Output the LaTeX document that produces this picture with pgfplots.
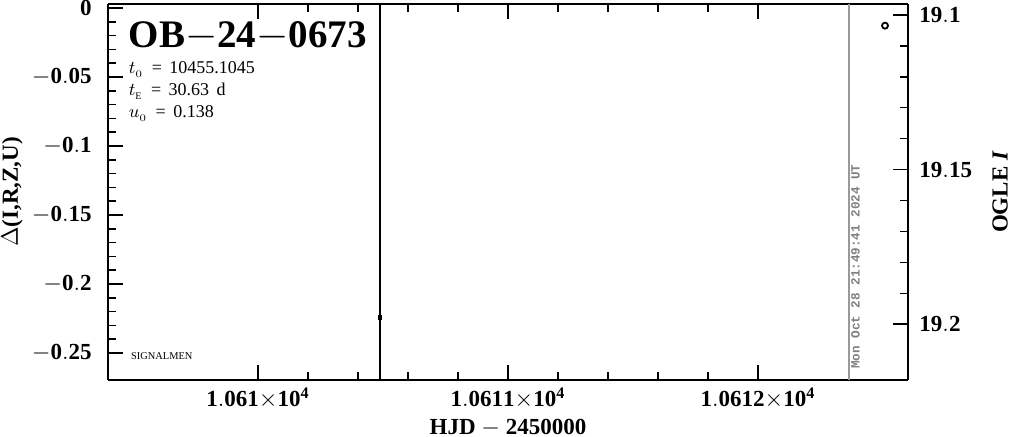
\documentclass[border=0pt]{standalone}
\usepackage{pgfplots}
\pgfplotsset{compat=1.18}
\usepackage{fontspec}
\setmainfont{Liberation Serif}
\newfontfamily\stampfont{Liberation Mono}
\begin{document}
\begin{tikzpicture}
\useasboundingbox (-54pt,-28.5pt) rectangle (451.5pt,190pt);
\pgfplotsset{
  every axis/.append style={
    scale only axis, width=400pt, height=188pt,
    line width=0.8pt,
    tick align=inside,
    major tick length=7.5pt, minor tick length=4pt,
    every tick/.style={black, line width=0.8pt},
    font=\fontsize{11.5}{13}\selectfont\bfseries,
    xmin=10609.4, xmax=10612.6,
    scaled x ticks=false, scaled y ticks=false,
  },
}
\begin{axis}[
  ymin=-0.2696, ymax=0.0029,
  axis y line*=left,
  xtick={10610,10611,10612},
  xticklabels={$\mathbf{1.061{\times}10^{4}}$,$\mathbf{1.0611{\times}10^{4}}$,$\mathbf{1.0612{\times}10^{4}}$},
  minor x tick num=4,
  ytick={0,-0.05,-0.1,-0.15,-0.2,-0.25},
  yticklabels={$\mathbf{0}$,$\mathbf{-0.05}$,$\mathbf{-0.1}$,$\mathbf{-0.15}$,$\mathbf{-0.2}$,$\mathbf{-0.25}$},
  minor y tick num=4,
  xticklabel style={yshift=0pt},
  yticklabel style={xshift=-4.5pt},
  xlabel={HJD $-$ 2450000},
  xlabel style={at={(axis description cs:0.5,-0.127)}, anchor=center},
  ylabel={$\Delta$(I,R,Z,U)},
  ylabel style={at={(axis description cs:-0.12,0.5)}, anchor=center},
  clip=true,
]
\addplot[black, line width=0.8pt, mark=square*, mark size=0.8pt,
  error bars/.cd, y dir=both, y explicit, error bar style={line width=0.8pt}, error mark=none]
  coordinates {(10610.488,-0.2246) +- (0,1)};
\addplot[gray!80, line width=0.6pt] coordinates {(10612.364,-0.2696) (10612.364,0.0029)};
\node[anchor=west, inner sep=0pt, font=\fontsize{19.5}{21}\selectfont\bfseries] at (rel axis cs:0.025,0.915) {OB$-$24$-$0673};
\node[anchor=north west, inner sep=0pt, align=left, font=\fontsize{9}{11}\selectfont\mdseries] at (rel axis cs:0.025,0.85)
 {$t_{_0}$ \,=\, 10455.1045\\ $t_{_{\rm E}}$ \,=\, 30.63 \,d\\ $u_{_0}$ \,=\, 0.138};
\node[anchor=west, inner sep=0pt, font=\fontsize{5.2}{6}\selectfont\mdseries] at (rel axis cs:0.028,0.063) {SIGNALMEN};
\node[rotate=90, anchor=north west, inner sep=0pt, text=gray, font=\fontsize{6.3}{7}\stampfont\bfseries] at (axis cs:10612.37,-0.262) {Mon Oct 28 21:49:41 2024 UT};
\end{axis}
\begin{axis}[
  ymin=19.0965, ymax=19.218, y dir=reverse,
  axis y line*=right, axis x line=none,
  xtick=\empty,
  ytick={19.1,19.15,19.2},
  yticklabels={$\mathbf{19.1}$,$\mathbf{19.15}$,$\mathbf{19.2}$},
  minor y tick num=4,
  yticklabel style={xshift=2pt},
  ylabel={OGLE \textit{I}},
  ylabel style={at={(axis description cs:1.115,0.5)}, anchor=center},
]
\addplot[only marks, mark=o, mark size=1.5pt, mark options={line width=0.9pt}, black] coordinates {(10612.508,19.1035)};
\end{axis}
\end{tikzpicture}
\end{document}
